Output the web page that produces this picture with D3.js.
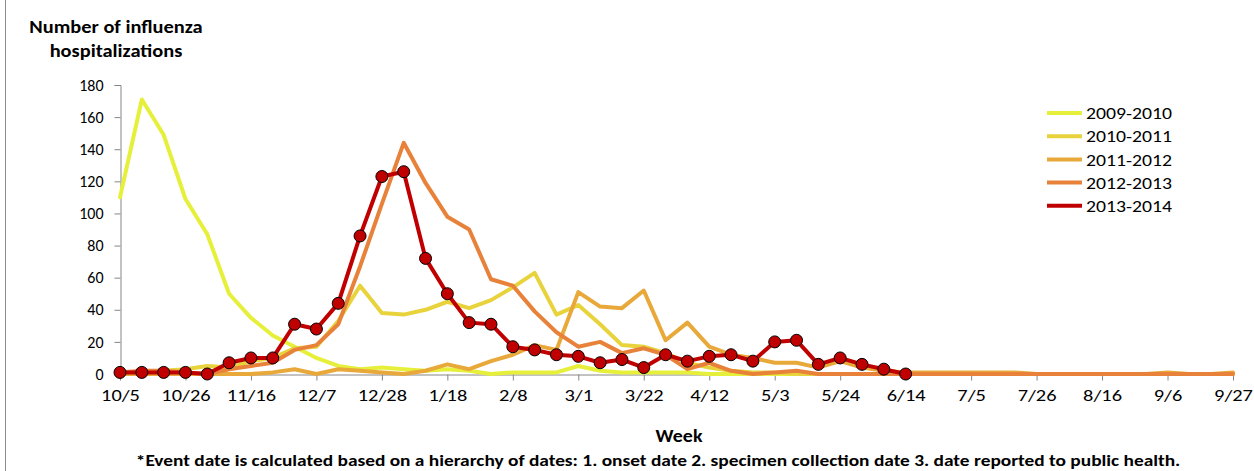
<!DOCTYPE html>
<html>
<head>
<meta charset="utf-8">
<script src="https://cdn.jsdelivr.net/npm/d3@7"></script>
<style>
  html, body { margin: 0; padding: 0; background: #ffffff; }
  svg { display: block; font-family: Calibri, Carlito, Lato, "Liberation Sans", sans-serif; }
</style>
</head>
<body>
<svg id="chart" width="1254" height="471"></svg>
<script>
// ---------- DATA ----------
const weeks = ["10/5","10/12","10/19","10/26","11/2","11/9","11/16","11/23","11/30","12/7","12/14","12/21","12/28",
  "1/4","1/11","1/18","1/25","2/1","2/8","2/15","2/22","3/1","3/8","3/15","3/22","3/29","4/5","4/12","4/19","4/26",
  "5/3","5/10","5/17","5/24","5/31","6/7","6/14","6/21","6/28","7/5","7/12","7/19","7/26","8/2","8/9","8/16","8/23",
  "8/30","9/6","9/13","9/20","9/27"];
const tickLabels = ["10/5","10/26","11/16","12/7","12/28","1/18","2/8","3/1","3/22","4/12","5/3","5/24","6/14","7/5","7/26","8/16","9/6","9/27"];
const yTicks = [0,20,40,60,80,100,120,140,160,180];
const seriesNames = ["2009-2010","2010-2011","2011-2012","2012-2013","2013-2014"];

const s2009 = [110,171,149,109,87,50,35,24,17,10,5,3,4,3,2,3,2,0,1,1,1,5,2,1,1,1,1,0,0,0,0,0,0,0,0,0,0,0,0,0,0,0,0,0,0,0,0,0,0,0,0,0];
const s2010 = [1,1,2,3,5,4,8,10,16,17,33,55,38,37,40,45,41,46,54,63,37,43,31,18,17,13,7,4,2,1,1,0,0,0,0,0,0,0,0,0,0,0,0,0,0,0,0,0,0,0,0,0];
const s2011 = [0,0,0,0,0,0,0,1,3,0,3,2,1,0,2,6,3,8,12,18,15,51,42,41,52,21,32,17,12,10,7,7,4,8,4,2,1,1,1,1,1,1,0,0,0,0,0,0,1,0,0,1];
const s2012 = [1,2,2,1,0,3,5,7,15,18,31,67,106,144,119,98,90,59,55,39,26,17,20,13,16,12,3,7,2,0,1,2,0,0,0,0,0,0,0,0,0,0,0,0,0,0,0,0,0,0,0,0];
const s2013 = [1,1,1,1,0,7,10,10,31,28,44,86,123,126,72,50,32,31,17,15,12,11,7,9,4,12,8,11,12,8,20,21,6,10,6,3,0];

const colors = ["#e6f03a","#e8d33c","#e8a93a","#e8823a","#c00000"];

// ---------- CHART ----------
const svg = d3.select("#chart");
const x = d3.scalePoint().domain(weeks).range([120, 1233]);
const y = d3.scaleLinear().domain([0, 180]).range([374, 85]);
const axisColor = "#868686";
const FONT = "Calibri, Carlito, Lato, sans-serif";

// horizontally widen text (reference glyphs are wider than the fallback font)
function stretch(sel, factor) {
  sel.each(function () {
    const len = this.getComputedTextLength();
    d3.select(this).attr("textLength", len * factor).attr("lengthAdjust", "spacingAndGlyphs");
  });
}

// outer left border
svg.append("line").attr("x1", 5.5).attr("x2", 5.5).attr("y1", 0).attr("y2", 471)
  .attr("stroke", "#8c8c8c").attr("stroke-width", 1);

// y axis
const yAxis = svg.append("g").attr("transform", "translate(120.5,0)")
  .call(d3.axisLeft(y).tickValues(yTicks).tickSize(6).tickPadding(11));
yAxis.select(".domain").attr("stroke", axisColor);
yAxis.selectAll(".tick line").attr("stroke", axisColor);
yAxis.selectAll(".tick text").attr("font-size", 16).attr("fill", "#000").attr("font-family", FONT);

// x axis
const xAxis = svg.append("g").attr("transform", "translate(0,374.5)")
  .call(d3.axisBottom(x).tickValues(tickLabels).tickSize(6).tickPadding(8).tickSizeOuter(0));
xAxis.select(".domain").attr("stroke", axisColor);
xAxis.selectAll(".tick line").attr("stroke", axisColor);
xAxis.selectAll(".tick text").attr("font-size", 17).attr("fill", "#000").attr("font-family", FONT)
  .call(stretch, 1.2);

// lines
const allSeries = [s2009, s2010, s2011, s2012, s2013];
const line = d3.line().x((d, i) => x(weeks[i])).y(d => y(d));
allSeries.forEach((s, k) => {
  svg.append("path").datum(s).attr("d", line)
    .attr("fill", "none").attr("stroke", colors[k]).attr("stroke-width", 4)
    .attr("stroke-linejoin", "round").attr("stroke-linecap", "round");
});

// markers for 2013-2014
svg.append("g").selectAll("circle").data(s2013).join("circle")
  .attr("cx", (d, i) => x(weeks[i])).attr("cy", d => y(d)).attr("r", 6)
  .attr("fill", "#c00000").attr("stroke", "#000").attr("stroke-width", 1);

// legend
const lg = svg.append("g");
seriesNames.forEach((name, k) => {
  const yy = 113 + k * 23.2;
  lg.append("line").attr("x1", 1047).attr("x2", 1082).attr("y1", yy).attr("y2", yy)
    .attr("stroke", colors[k]).attr("stroke-width", 4);
  lg.append("text").attr("x", 1086).attr("y", yy).attr("dy", "0.36em")
    .attr("font-size", 17).attr("fill", "#000").text(name).call(stretch, 1.16);
});

// y title
svg.append("text").attr("x", 116).attr("y", 33).attr("text-anchor", "middle")
  .attr("font-size", 17).attr("font-weight", "bold").text("Number of influenza").call(stretch, 1.2);
svg.append("text").attr("x", 116).attr("y", 57).attr("text-anchor", "middle")
  .attr("font-size", 17).attr("font-weight", "bold").text("hospitalizations").call(stretch, 1.2);

// x title
svg.append("text").attr("x", 679).attr("y", 442).attr("text-anchor", "middle")
  .attr("font-size", 17).attr("font-weight", "bold").text("Week").call(stretch, 1.17);

// footnote
svg.append("text").attr("x", 658).attr("y", 466).attr("text-anchor", "middle")
  .attr("font-size", 16).attr("font-weight", "bold")
  .text("*Event date is calculated based on a hierarchy of dates: 1. onset date 2. specimen collection date 3. date reported to public health.")
  .call(stretch, 1.21);
</script>
</body>
</html>
